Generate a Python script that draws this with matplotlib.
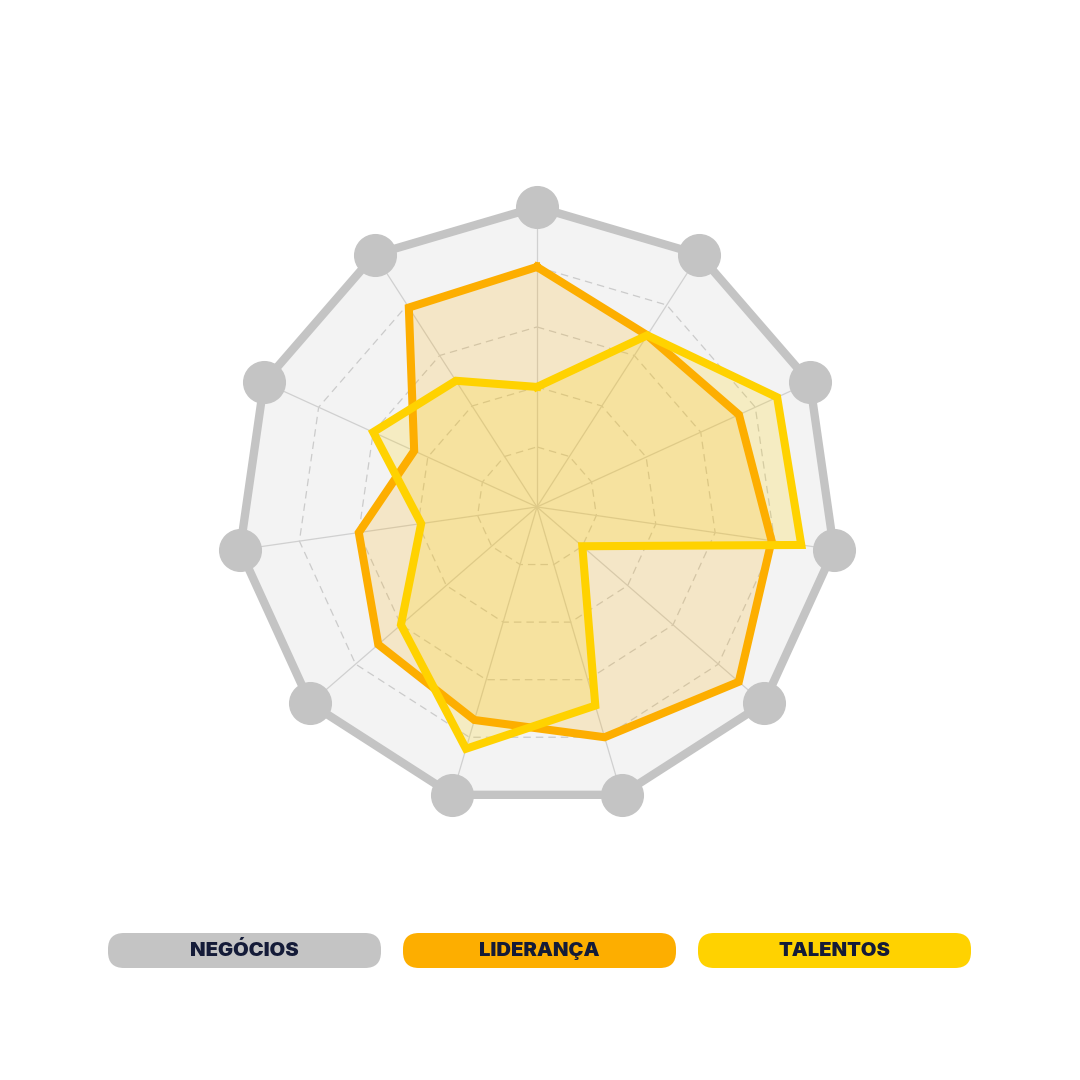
import numpy as np
import matplotlib.pyplot as plt
from matplotlib.patches import FancyBboxPatch

# eixos do radar (11 dimensões, sem rótulos no gráfico)
n_axes = 11
negocios = [10, 10, 10, 10, 10, 10, 10, 10, 10, 10, 10]
lideranca = [8, 6.8, 7.4, 7.9, 8.9, 8, 7.4, 7, 6, 4.5, 7.9]
talentos = [4, 6.8, 8.8, 8.9, 2, 6.9, 8.4, 6, 3.9, 6, 5]
legend_labels = ["NEGÓCIOS", "LIDERANÇA", "TALENTOS"]

gray = "#c4c4c4"
orange = "#fdae00"
yellow = "#ffd200"
navy = "#141b38"

angles = np.linspace(0, 2 * np.pi, n_axes, endpoint=False)
ang_c = np.append(angles, angles[0])

def close(v):
    return np.append(v, v[0])

fig = plt.figure(figsize=(10.8, 10.8), dpi=100)
ax = fig.add_axes([0.2194, 0.2528, 0.5556, 0.5556], projection="polar")
ax.set_theta_offset(np.pi / 2)
ax.set_theta_direction(-1)
ax.set_ylim(0, 10)
ax.grid(False)
ax.spines["polar"].set_visible(False)
ax.set_xticks([])
ax.set_yticks([])
ax.patch.set_alpha(0)

# fundo cinza do polígono externo
ax.fill(ang_c, close(negocios), color="#f3f3f3", zorder=1)

# grade: anéis tracejados e raios
for r in [2, 4, 6, 8]:
    ax.plot(ang_c, [r] * (n_axes + 1), color="#cbcbcb", lw=0.9, ls=(0, (6, 4)), zorder=2)
for a in angles:
    ax.plot([a, a], [0, 10], color="#d0d0d0", lw=0.9, zorder=2)

# séries
ax.fill(ang_c, close(lideranca), color=orange, alpha=0.18, lw=0, zorder=3)
ax.fill(ang_c, close(talentos), color=yellow, alpha=0.2, lw=0, zorder=3)

ax.plot(ang_c, close(negocios), color=gray, lw=6, zorder=4, clip_on=False,
        solid_joinstyle="round")
ax.plot(angles, negocios, "o", color=gray, ms=30, zorder=5, clip_on=False)
ax.plot(ang_c, close(lideranca), color=orange, lw=5.8, zorder=6, clip_on=False,
        solid_joinstyle="miter")
ax.plot(ang_c, close(talentos), color=yellow, lw=5.8, zorder=7, clip_on=False,
        solid_joinstyle="miter")

# legenda em formato de pílula
pill_x = [108, 403, 698]
pill_w = 273
pill_y = 1080 - 968
pill_h = 35
rad = 16
for x0, lab, col in zip(pill_x, legend_labels, [gray, orange, yellow]):
    p = FancyBboxPatch(((x0 + rad) / 1080, (pill_y + rad) / 1080),
                       (pill_w - 2 * rad) / 1080, (pill_h - 2 * rad) / 1080,
                       boxstyle="round,pad=%f" % (rad / 1080), transform=fig.transFigure,
                       facecolor=col, edgecolor="none")
    fig.patches.append(p)
    fig.text((x0 + pill_w / 2) / 1080, (pill_y + pill_h / 2) / 1080, lab,
             ha="center", va="center", fontsize=14.5, fontweight="black",
             family=["Inter", "DejaVu Sans"], color=navy)

fig.savefig("out.png", dpi=100, facecolor="white")
